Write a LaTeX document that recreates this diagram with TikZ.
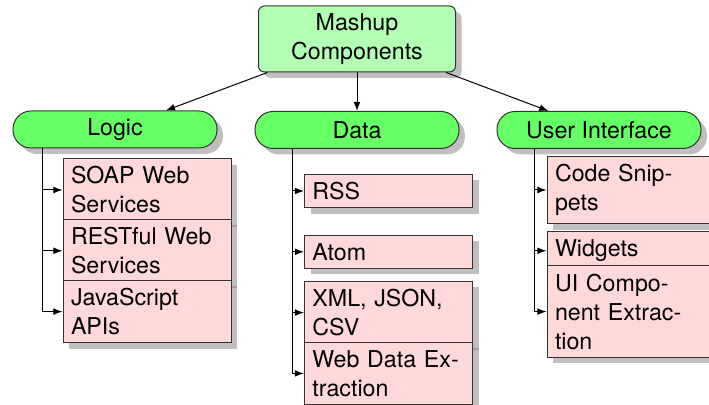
\documentclass[tikz,border=0pt]{standalone}
\usepackage{fontspec}
\setmainfont{TeX Gyre Heros}
\usepackage{tikz}
\usetikzlibrary{shapes,arrows,arrows.meta,shadows}

\definecolor{rootgreen}{RGB}{179,255,179}
\definecolor{groupgreen}{RGB}{102,255,102}
\definecolor{leafpink}{RGB}{255,217,217}

\begin{document}
\begin{tikzpicture}[->, >={Latex[length=4.6pt,width=3.4pt]}, x=0.5pt, y=-0.5pt, line width=0.5pt, node distance=30.4pt,
    font=\fontsize{11.6}{14.5}\selectfont]
      \tikzstyle{every node}=[draw=black!80, drop shadow={shadow xshift=3pt, shadow yshift=-3pt}]
      \tikzstyle{root}=[rounded corners=3pt, fill=rootgreen, align=center, minimum width=98.5pt, minimum height=33pt]
      \tikzstyle{group}=[rounded corners=9pt, fill=groupgreen, minimum width=102pt, minimum height=18.5pt]
      \tikzstyle{leaf}=[fill=leafpink, text width=76pt, inner xsep=4pt, inner ysep=4pt, align=left]
      \useasboundingbox (0,0) rectangle (709,405);
      \node[root] (mashup) at (357,39) {Mashup\\Components};
      \node[group] (logic) at (115,129.5) {Logic};
      \node[group] (data) at (357,130) {Data};
      \node[group] (ui) at (599,130) {User Interface};
      % logic
      \node[leaf] (soap) at (147,190) {SOAP Web\\Services};
      \node[leaf] (rest) [below of=soap] {RESTful Web\\Services};
      \node[leaf] (js) [below of=rest] {JavaScript\\APIs};
      % data
      \node[leaf] (rss) at (388.5,191) {RSS};
      \node[leaf] (atom) [below of=rss] {Atom};
      \node[leaf] (xml) [below of=atom] {XML, JSON,\\CSV};
      \node[leaf] (webdata) [below of=xml] {Web Data Ex-\\traction};
      % user interface
      \node[leaf] (snippets) at (631,190) {Code Snip-\\pets};
      \node[leaf] (widgets) [below of=snippets] {Widgets};
      \node[leaf] (uicomp) [below of=widgets] {UI Compo-\\nent Extrac-\\tion};
      \path
      (mashup) edge (logic)
      (mashup) edge (data)
      (mashup) edge (ui);
      \draw (logic.south west) ++(15pt,0) |- (soap.west);
      \draw (logic.south west) ++(15pt,0) |- (rest.west);
      \draw (logic.south west) ++(15pt,0) |- (js.west);
      \draw (data.south west) ++(19pt,0) |- (rss.west);
      \draw (data.south west) ++(19pt,0) |- (atom.west);
      \draw (data.south west) ++(19pt,0) |- (xml.west);
      \draw (data.south west) ++(19pt,0) |- (webdata.west);
      \draw (ui.south west) ++(19pt,0) |- (snippets.west);
      \draw (ui.south west) ++(19pt,0) |- (widgets.west);
      \draw (ui.south west) ++(19pt,0) |- (uicomp.west);
\end{tikzpicture}
\end{document}
